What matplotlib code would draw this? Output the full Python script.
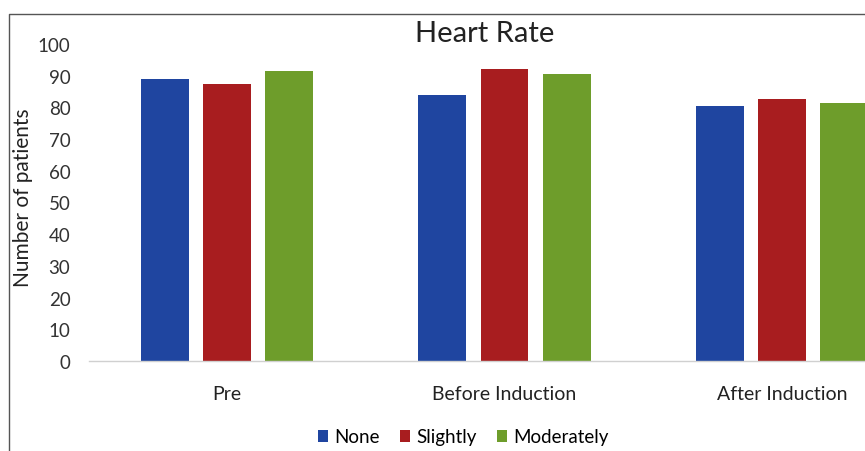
import matplotlib; matplotlib.use("Agg")
import matplotlib.pyplot as plt
import numpy as np
from matplotlib.lines import Line2D
from matplotlib.patches import Patch

plt.rcParams['font.family'] = ['Lato', 'DejaVu Sans']

categories = ["Pre", "Before Induction", "After Induction"]
series = ["None", "Slightly", "Moderately"]
none_vals = [89, 84, 80.5]
slightly_vals = [87.5, 92, 82.5]
moderately_vals = [91.5, 90.5, 81.5]
yticks = list(range(0, 101, 10))

COLORS = ["#1f45a0", "#a81d1f", "#6e9d2b"]

fig = plt.figure(figsize=(8.65, 4.52), dpi=100)
ax = fig.add_axes([88.5/865, 1-362/452, 832/865, 317/452])

x = np.arange(len(categories))
w, step = 0.173, 0.224
for i, (vals, c, name) in enumerate(zip([none_vals, slightly_vals, moderately_vals], COLORS, series)):
    ax.bar(x + (i-1)*step, vals, width=w, color=c, label=name, zorder=2)

ax.set_xlim(-0.5, 2.5); ax.set_ylim(0, 100)
ax.set_yticks(yticks); ax.set_yticklabels([str(t) for t in yticks], fontsize=13.5, color="#333333")
ax.set_xticks(x); ax.set_xticklabels(categories, fontsize=14, color="#222222")
ax.tick_params(axis="both", length=0)
ax.tick_params(axis="y", pad=13)
ax.tick_params(axis="x", pad=17)
for s in ["top", "right", "left"]: ax.spines[s].set_visible(False)
ax.spines["bottom"].set_color("#d0d0d0"); ax.spines["bottom"].set_linewidth(1.0)
ax.set_ylabel("Number of patients", fontsize=15, color="#222222")
ax.yaxis.set_label_coords(-55/832, 0.517)

fig.text(485/865, 1-34/452, "Heart Rate", ha="center", va="center", fontsize=21, color="#222222")

# chart frame (cut off on right and bottom)
fig.add_artist(Line2D([9/865, 9/865, 1.0], [0.0, 1-15/452, 1-15/452], transform=fig.transFigure,
                      color="#555555", lw=1.0))

handles = [Patch(facecolor=c, label=n) for c, n in zip(COLORS, series)]
fig.legend(handles=handles, loc="center", bbox_to_anchor=(463/865, 1-438/452), ncol=3, frameon=False,
           fontsize=13.5, handlelength=0.55, handleheight=0.55, handletextpad=0.3, columnspacing=1.1)

fig.savefig("out.png", dpi=100)
